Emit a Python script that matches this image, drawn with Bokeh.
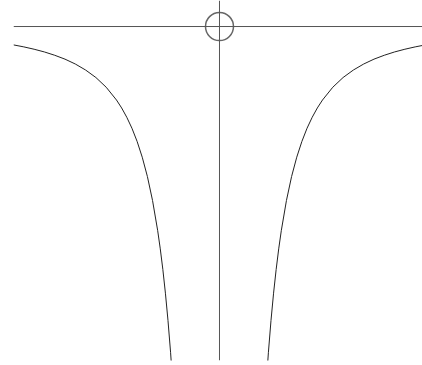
from bokeh.plotting import figure
from bokeh.models import Range1d, Span
from bokeh.embed import file_html
from bokeh.resources import INLINE

# Left branch
left_x = [-2.0, -1.9, -1.8, -1.7, -1.6, -1.5, -1.4, -1.3, -1.2, -1.1, -1.0,
          -0.95, -0.9, -0.85, -0.8, -0.75, -0.7, -0.65, -0.6, -0.575, -0.55,
          -0.525, -0.5, -0.475, -0.45]
left_y = [-0.25, -0.277, -0.309, -0.346, -0.391, -0.444, -0.510, -0.592, -0.694,
          -0.826, -1.0, -1.108, -1.235, -1.384, -1.563, -1.778, -2.041, -2.367,
          -2.778, -3.025, -3.306, -3.628, -4.0, -4.432, -4.938]
# Right branch
right_x = [0.45, 0.475, 0.5, 0.525, 0.55, 0.575, 0.6, 0.65, 0.7, 0.75, 0.8,
           0.85, 0.9, 0.95, 1.0, 1.1, 1.2, 1.3, 1.4, 1.5, 1.6, 1.7, 1.8, 1.9, 2.0]
right_y = [-4.938, -4.432, -4.0, -3.628, -3.306, -3.025, -2.778, -2.367, -2.041,
           -1.778, -1.563, -1.384, -1.235, -1.108, -1.0, -0.826, -0.694, -0.592,
           -0.510, -0.444, -0.391, -0.346, -0.309, -0.277, -0.25]
origin_x = [0.0]
origin_y = [0.0]

p = figure(width=422, height=365, output_backend="svg", toolbar_location=None,
           x_range=Range1d(-2.0, 1.971), y_range=Range1d(-4.544, 0.354),
           x_axis_location=None, y_axis_location=None,
           min_border_left=13, min_border_right=0, min_border_top=0, min_border_bottom=5)
p.grid.visible = False
p.outline_line_color = None

p.add_layout(Span(location=0, dimension="width", line_color="#555555", line_width=1))
p.add_layout(Span(location=0, dimension="height", line_color="#555555", line_width=1))

p.line(left_x, left_y, line_color="#222222", line_width=1)
p.line(right_x, right_y, line_color="#222222", line_width=1)
p.scatter(origin_x, origin_y, marker="circle", size=28, fill_color=None,
          line_color="#666666", line_width=1.5)

open("out.html", "w").write(file_html(p, INLINE))
